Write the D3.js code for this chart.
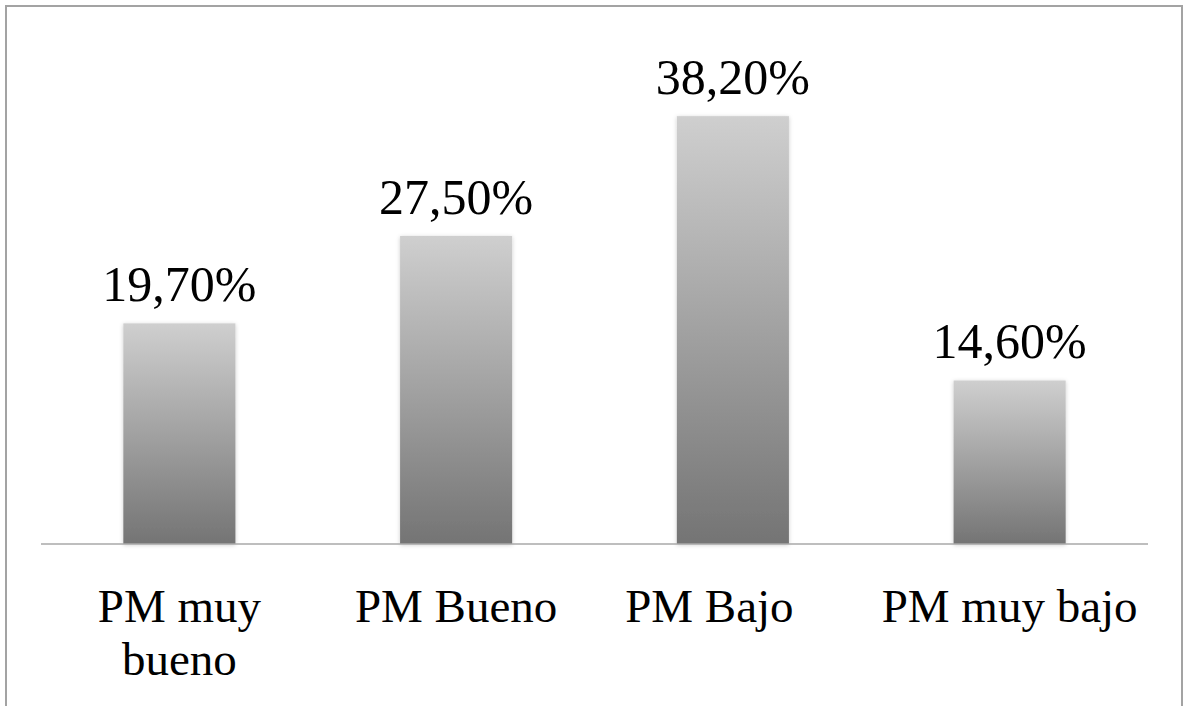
<!DOCTYPE html>
<html>
<head>
<meta charset="utf-8">
<script src="https://cdn.jsdelivr.net/npm/d3@7"></script>
<style>
  html, body { margin: 0; padding: 0; background: #fff; }
  svg { display: block; }
  text { font-family: "Liberation Serif", "Times New Roman", serif; fill: #000; white-space: pre; }
</style>
</head>
<body>
<svg id="chart" width="1184" height="706"></svg>
<script>
// Share of students by performance level (PM); the "PM Bajo" cell carries trailing spaces
const categories = ["PM muy bueno", "PM Bueno", "PM Bajo    ", "PM muy bajo"];
const values = [19.7, 27.5, 38.2, 14.6];
const valueLabels = ["19,70%", "27,50%", "38,20%", "14,60%"];

const W = 1184, H = 706;
const svg = d3.select("#chart");

const plot = { left: 41, right: 1148, top: 40, bottom: 544 };

const x = d3.scaleBand()
  .domain(categories)
  .range([plot.left, plot.right])
  .paddingInner(0.595)
  .paddingOuter(0.2975);

const y = d3.scaleLinear()
  .domain([0, 45])
  .range([plot.bottom, plot.top]);

const defs = svg.append("defs");
const grad = defs.append("linearGradient")
  .attr("id", "barFill")
  .attr("x1", 0).attr("y1", 0).attr("x2", 0).attr("y2", 1);
grad.append("stop").attr("offset", "0%").attr("stop-color", "#cfcfcf");
grad.append("stop").attr("offset", "100%").attr("stop-color", "#747474");

const shadow = defs.append("filter")
  .attr("id", "barShadow")
  .attr("x", "-20%").attr("y", "-10%").attr("width", "140%").attr("height", "120%");
shadow.append("feDropShadow")
  .attr("dx", 0).attr("dy", 1).attr("stdDeviation", 2)
  .attr("flood-color", "#000").attr("flood-opacity", 0.2);

// outer frame
svg.append("rect")
  .attr("x", 6).attr("y", 6)
  .attr("width", 1176).attr("height", 740)
  .attr("fill", "none")
  .attr("stroke", "#a3a3a3")
  .attr("stroke-width", 2);

// bars
svg.append("g")
  .selectAll("rect")
  .data(values)
  .join("rect")
  .attr("x", (d, i) => x(categories[i]))
  .attr("y", d => y(d))
  .attr("width", x.bandwidth())
  .attr("height", d => y(0) - y(d))
  .attr("fill", "url(#barFill)")
  .attr("filter", "url(#barShadow)");

// category axis line
const axis = svg.append("g")
  .attr("transform", `translate(0,${plot.bottom})`)
  .call(d3.axisBottom(x).tickSize(0).tickFormat(""));
axis.select(".domain")
  .attr("d", `M${plot.left},0H${plot.right}`)
  .attr("stroke", "#a8a8a8")
  .attr("stroke-width", 1.6);

// value labels
svg.append("g")
  .selectAll("text")
  .data(values)
  .join("text")
  .attr("x", (d, i) => x(categories[i]) + x.bandwidth() / 2)
  .attr("y", d => y(d) - 22)
  .attr("text-anchor", "middle")
  .style("font-size", "50px")
  .text((d, i) => valueLabels[i]);

// category labels, wrapped to the band width
const catSize = 47, lineGap = 53;
const catG = svg.append("g");
categories.forEach(c => {
  const cx = x(c) + x.bandwidth() / 2;
  const t = catG.append("text")
    .attr("xml:space", "preserve")
    .attr("text-anchor", "middle")
    .style("font-size", catSize + "px")
    .attr("x", cx)
    .attr("y", plot.bottom + 78);
  const words = c.split(" ");
  const maxW = x.step();
  let line = [];
  let tspan = t.append("tspan").attr("x", cx).attr("dy", 0);
  words.forEach(w => {
    line.push(w);
    tspan.text(line.join(" "));
    if (tspan.node().getComputedTextLength() > maxW && line.length > 1) {
      line.pop();
      tspan.text(line.join(" "));
      line = [w];
      tspan = t.append("tspan")
        .attr("x", cx)
        .attr("dy", lineGap)
        .text(w);
    }
  });
});
</script>
</body>
</html>
